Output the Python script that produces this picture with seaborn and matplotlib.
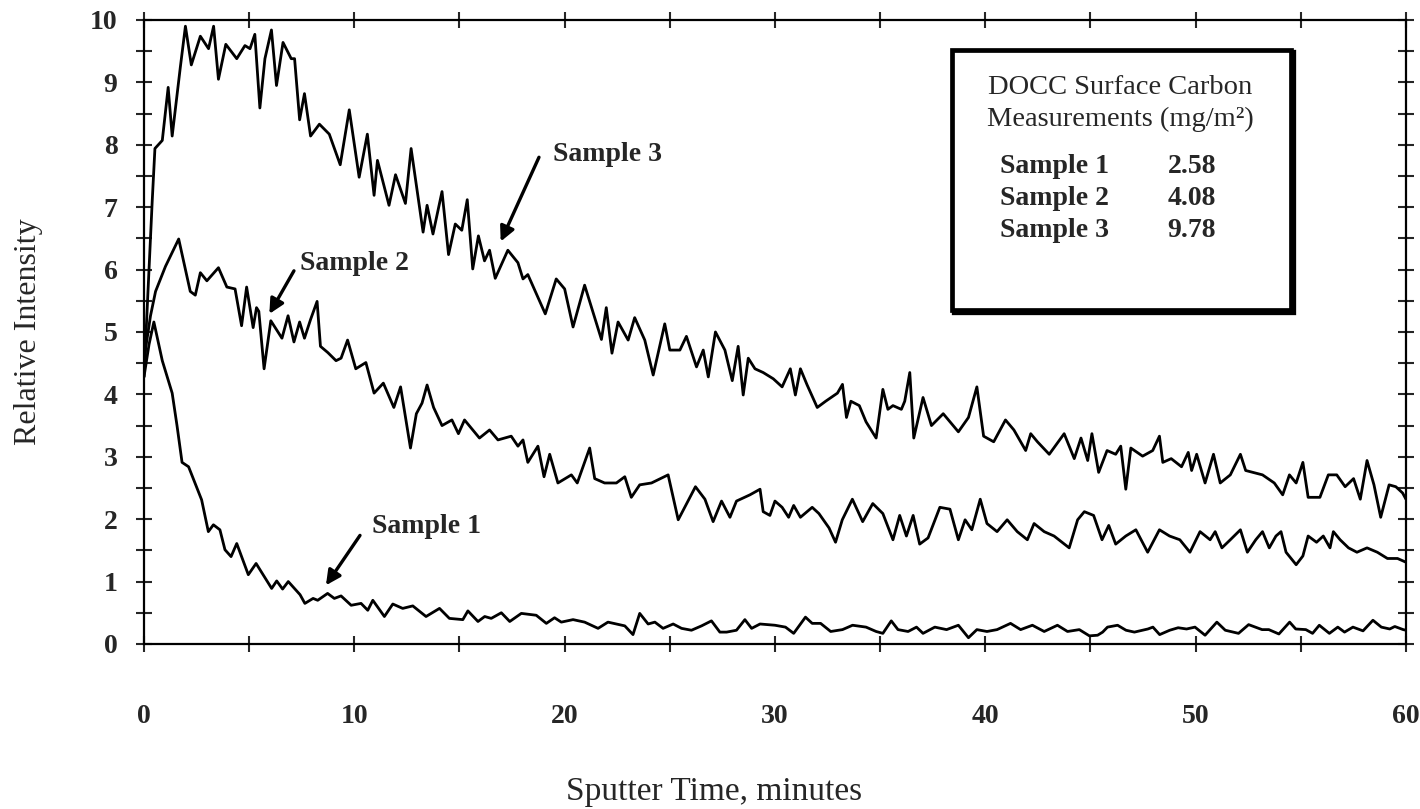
import seaborn as sns
import matplotlib.pyplot as plt
import matplotlib.patches as patches

# sputter time (minutes) and relative intensity
time_s1 = [0.00, 0.24, 0.47, 0.87, 1.34, 1.57, 1.81, 2.12, 2.74, 3.06, 3.30, 3.61, 3.85, 4.14, 4.41,
           4.96, 5.33, 6.07, 6.31, 6.59, 6.86, 7.42, 7.65, 8.04, 8.26, 8.73, 9.05, 9.37, 9.85, 10.32,
           10.64, 10.88, 11.43, 11.83, 12.30, 12.78, 13.41, 14.05, 14.52, 15.16, 15.40, 15.88, 16.20,
           16.51, 16.99, 17.39, 17.94, 18.65, 19.13, 19.52, 19.84, 20.40, 20.95, 21.59, 22.06, 22.86,
           23.25, 23.57, 23.97, 24.29, 24.68, 25.16, 25.56, 26.03, 26.51, 26.98, 27.38, 27.70, 28.17,
           28.57, 28.89, 29.29, 30.00, 30.50, 30.89, 31.45, 31.77, 32.17, 32.65, 33.21, 33.69, 34.33,
           34.81, 35.13, 35.53, 35.85, 36.33, 36.73, 37.04, 37.60, 38.16, 38.72, 39.20, 39.60, 40.08,
           40.56, 41.20, 41.68, 42.24, 42.80, 43.43, 43.91, 44.47, 44.95, 45.34, 45.58, 45.81, 46.29,
           46.69, 47.09, 47.73, 47.97, 48.29, 48.77, 49.17, 49.57, 49.97, 50.45, 51.01, 51.41, 52.04,
           52.52, 53.16, 53.48, 53.96, 54.47, 54.76, 55.24, 55.56, 55.88, 56.36, 56.76, 57.08, 57.48,
           57.96, 58.43, 58.83, 59.23, 59.47, 59.87, 60.00]
int_s1 = [4.28, 4.80, 5.16, 4.54, 4.02, 3.50, 2.91, 2.84, 2.31, 1.80, 1.91, 1.83, 1.51, 1.40, 1.61,
          1.11, 1.29, 0.89, 1.01, 0.88, 1.00, 0.79, 0.65, 0.73, 0.70, 0.81, 0.73, 0.77, 0.62, 0.65,
          0.54, 0.70, 0.44, 0.64, 0.57, 0.61, 0.44, 0.57, 0.41, 0.39, 0.53, 0.36, 0.44,
          0.41, 0.50, 0.36, 0.49, 0.46, 0.33, 0.42, 0.35, 0.39, 0.35, 0.25, 0.35, 0.29,
          0.15, 0.49, 0.32, 0.35, 0.25, 0.32, 0.25, 0.22, 0.29, 0.37, 0.19, 0.19, 0.22,
          0.39, 0.25, 0.32, 0.30, 0.27, 0.17, 0.43, 0.33, 0.33, 0.20, 0.23, 0.30, 0.27,
          0.20, 0.17, 0.37, 0.23, 0.20, 0.27, 0.17, 0.27, 0.23, 0.30, 0.10, 0.23, 0.20,
          0.23, 0.33, 0.23, 0.30, 0.20, 0.30, 0.20, 0.23, 0.13, 0.14, 0.19, 0.27, 0.30,
          0.22, 0.19, 0.24, 0.27, 0.15, 0.22, 0.26, 0.24, 0.27, 0.14, 0.35, 0.22, 0.17,
          0.31, 0.23, 0.23, 0.16, 0.35, 0.24, 0.23, 0.17, 0.30, 0.17, 0.27, 0.19, 0.27,
          0.21, 0.38, 0.27, 0.24, 0.28, 0.23, 0.22]

time_s2 = [0.00, 0.08, 0.31, 0.55, 1.02, 1.65, 2.20, 2.44, 2.68, 2.99, 3.54, 3.94, 4.33, 4.64, 4.88,
           5.19, 5.35, 5.46, 5.71, 6.03, 6.56, 6.85, 7.13, 7.40, 7.63, 7.92, 8.23, 8.39, 8.74, 9.13,
           9.37, 9.68, 10.07, 10.55, 10.94, 11.38, 11.88, 12.20, 12.67, 12.95, 13.22, 13.46, 13.77,
           14.17, 14.64, 14.95, 15.24, 15.56, 15.95, 16.43, 16.83, 17.46, 17.78, 18.02, 18.25, 18.73,
           19.02, 19.29, 19.68, 20.32, 20.60, 21.19, 21.43, 21.90, 22.46, 22.86, 23.17, 23.57, 24.13,
           24.92, 25.40, 25.71, 26.22, 26.67, 27.06, 27.46, 27.86, 28.17, 28.81, 29.29, 29.44, 29.76,
           30.00, 30.34, 30.65, 30.89, 31.21, 31.77, 32.09, 32.57, 32.88, 33.20, 33.68, 34.17, 34.65,
           35.13, 35.61, 35.93, 36.25, 36.57, 36.88, 37.28, 37.84, 38.32, 38.72, 39.04, 39.36, 39.76,
           40.08, 40.56, 41.04, 41.52, 42.00, 42.32, 42.80, 43.27, 43.99, 44.39, 44.71, 45.15, 45.55,
           45.87, 46.20, 46.68, 47.16, 47.72, 48.28, 48.76, 49.25, 49.73, 50.21, 50.69, 50.93, 51.25,
           51.65, 52.13, 52.46, 52.86, 53.18, 53.50, 53.82, 54.06, 54.30, 54.78, 55.10, 55.35, 55.75,
           56.07, 56.39, 56.55, 56.87, 57.27, 57.67, 58.15, 58.64, 59.12, 59.60, 60.00]
int_s2 = [4.40, 4.74, 5.26, 5.65, 6.05, 6.49, 5.65, 5.59, 5.95, 5.82, 6.03, 5.72, 5.69, 5.10, 5.72,
          5.07, 5.39, 5.33, 4.41, 5.18, 4.90, 5.26, 4.84, 5.16, 4.90, 5.20, 5.49, 4.77, 4.67, 4.54,
          4.58, 4.87, 4.41, 4.51, 4.02, 4.18, 3.79, 4.12, 3.14, 3.69, 3.86, 4.15, 3.79,
          3.50, 3.59, 3.37, 3.59, 3.46, 3.30, 3.43, 3.27, 3.33, 3.17, 3.27, 2.91, 3.17,
          2.68, 3.04, 2.58, 2.71, 2.58, 3.14, 2.65, 2.58, 2.58, 2.68, 2.35, 2.55, 2.58,
          2.71, 1.99, 2.19, 2.52, 2.32, 1.96, 2.29, 2.03, 2.29, 2.39, 2.48, 2.12, 2.06,
          2.29, 2.19, 2.03, 2.22, 2.03, 2.19, 2.09, 1.86, 1.63, 1.99, 2.32, 1.96, 2.25,
          2.09, 1.67, 2.06, 1.73, 2.06, 1.60, 1.70, 2.19, 2.16, 1.67, 1.99, 1.83, 2.32,
          1.93, 1.80, 1.99, 1.80, 1.67, 1.93, 1.80, 1.73, 1.54, 1.99, 2.12, 2.06, 1.67,
          1.90, 1.60, 1.73, 1.83, 1.47, 1.83, 1.73, 1.67, 1.47, 1.80, 1.67, 1.80, 1.54,
          1.67, 1.83, 1.47, 1.67, 1.80, 1.54, 1.73, 1.80, 1.47, 1.27, 1.41, 1.73, 1.63,
          1.73, 1.54, 1.80, 1.67, 1.54, 1.47, 1.54, 1.47, 1.37, 1.37, 1.31]

time_s3 = [0.00, 0.39, 0.52, 0.87, 1.15, 1.34, 1.73, 1.97, 2.25, 2.68, 3.07, 3.31, 3.54, 3.89, 4.41,
           4.80, 5.04, 5.27, 5.51, 5.75, 6.06, 6.30, 6.61, 7.00, 7.16, 7.40, 7.63, 7.92, 8.34, 8.81,
           9.33, 9.76, 10.23, 10.62, 10.94, 11.10, 11.65, 11.96, 12.43, 12.70, 13.27, 13.46, 13.74,
           14.17, 14.48, 14.80, 15.11, 15.37, 15.63, 15.90, 16.19, 16.43, 16.70, 17.30, 17.78, 18.02,
           18.25, 19.08, 19.60, 20.00, 20.40, 20.95, 21.75, 21.98, 22.25, 22.54, 23.02, 23.33, 23.81,
           24.21, 24.76, 25.00, 25.48, 25.79, 26.27, 26.59, 26.83, 27.17, 27.62, 27.97, 28.25, 28.49,
           28.73, 29.05, 29.44, 29.92, 30.34, 30.73, 30.97, 31.21, 31.53, 32.01, 32.41, 32.97, 33.21,
           33.40, 33.61, 34.01, 34.33, 34.81, 35.13, 35.37, 35.61, 36.01, 36.17, 36.41, 36.60, 37.04,
           37.44, 38.00, 38.72, 39.20, 39.60, 39.92, 40.40, 40.96, 41.36, 41.92, 42.16, 42.48, 43.04,
           43.75, 44.23, 44.55, 44.87, 45.07, 45.39, 45.79, 46.20, 46.44, 46.68, 46.92, 47.48, 47.96,
           48.28, 48.44, 48.84, 49.33, 49.65, 49.81, 50.05, 50.45, 50.85, 51.17, 51.65, 52.13, 52.38,
           53.18, 53.74, 54.14, 54.46, 54.78, 55.10, 55.35, 55.91, 56.31, 56.71, 57.11, 57.51, 57.83,
           58.15, 58.48, 58.80, 59.20, 59.52, 59.84, 60.00]
int_s3 = [4.28, 7.09, 7.94, 8.07, 8.92, 8.14, 9.25, 9.90, 9.28, 9.74, 9.54, 9.90, 9.05, 9.61, 9.38,
          9.59, 9.54, 9.77, 8.59, 9.38, 9.84, 8.95, 9.64, 9.38, 9.38, 8.40, 8.82, 8.14, 8.33, 8.17,
          7.68, 8.56, 7.48, 8.17, 7.19, 7.75, 7.03, 7.52, 7.06, 7.94, 6.60, 7.03, 6.57,
          7.25, 6.24, 6.73, 6.63, 7.12, 6.01, 6.54, 6.14, 6.31, 5.86, 6.31, 6.11, 5.85,
          5.92, 5.29, 5.85, 5.69, 5.08, 5.75, 4.88, 5.39, 4.66, 5.16, 4.87, 5.23, 4.87,
          4.31, 5.13, 4.71, 4.71, 4.93, 4.44, 4.71, 4.28, 5.00, 4.71, 4.22, 4.77, 3.99,
          4.58, 4.41, 4.35, 4.25, 4.12, 4.41, 3.99, 4.41, 4.15, 3.79, 3.89, 4.02, 4.16,
          3.63, 3.89, 3.82, 3.56, 3.30, 4.08, 3.76, 3.82, 3.76, 3.89, 4.35, 3.30, 3.95,
          3.50, 3.69, 3.40, 3.63, 4.12, 3.33, 3.24, 3.59, 3.43, 3.10, 3.37, 3.24, 3.04,
          3.37, 2.97, 3.30, 2.94, 3.37, 2.75, 3.10, 3.04, 3.17, 2.48, 3.14, 3.01, 3.10,
          3.33, 2.91, 2.97, 2.84, 3.07, 2.78, 3.04, 2.58, 3.04, 2.58, 2.71, 3.04, 2.78,
          2.71, 2.58, 2.39, 2.71, 2.58, 2.91, 2.35, 2.35, 2.71, 2.71, 2.52, 2.65, 2.32,
          2.94, 2.55, 2.03, 2.55, 2.52, 2.42, 2.32]

sample_names = ["Sample 1", "Sample 2", "Sample 3"]
carbon_values = ["2.58", "4.08", "9.78"]

sns.set_style("ticks")
plt.rcParams['font.family'] = ['Liberation Serif', 'DejaVu Serif']

fig = plt.figure(figsize=(14.2, 8.09), dpi=100)
ax = fig.add_axes([0.1014, 0.2040, 0.8887, 0.7713])

for t, v in [(time_s1, int_s1), (time_s2, int_s2), (time_s3, int_s3)]:
    sns.lineplot(x=t, y=v, ax=ax, color="black", linewidth=2.0,
                 estimator=None, sort=False)

ax.set_xlim(0, 60)
ax.set_ylim(0, 10)
ax.set_xticks(range(0, 61, 10))
ax.set_xticks(range(5, 60, 10), minor=True)
ax.set_yticks(range(0, 11))
ax.set_yticks([i + 0.5 for i in range(10)], minor=True)

for s in ax.spines.values():
    s.set_linewidth(1.6)
    s.set_color("black")

ax.tick_params(which="both", direction="inout", length=12, width=1.5,
               top=True, right=True, labeltop=False, labelright=False)
ax.tick_params(axis="x", pad=37)
ax.tick_params(axis="y", pad=13)
for lab in ax.get_xticklabels() + ax.get_yticklabels():
    lab.set_fontweight("bold")
    lab.set_fontsize(20)

ax.set_xlabel("Sputter Time, minutes", fontsize=24)
ax.xaxis.set_label_coords(0.452, -0.213)
ax.set_ylabel("Relative Intensity", fontsize=23)
ax.yaxis.set_label_coords(-0.080, 0.5)

# curve labels with arrows
labels = [("Sample 3", (19.45, 7.84), (18.78, 7.80), (16.96, 6.45)),
          ("Sample 2", (7.42, 6.10), (7.13, 5.98), (5.96, 5.29)),
          ("Sample 1", (10.83, 1.88), (10.27, 1.74), (8.65, 0.94))]
for name, txt, tail, head in labels:
    ax.text(txt[0], txt[1], name, fontsize=20, fontweight="bold",
            ha="left", va="center")
    ax.annotate("", xy=head, xytext=tail,
                arrowprops=dict(arrowstyle="-|>", color="black", lw=2.4,
                                mutation_scale=22, shrinkA=0, shrinkB=0))

# measurement box (slightly heavier lower-right edge like the scan)
ax.add_patch(patches.Rectangle((0.6415, 0.532), 0.269, 0.417, transform=ax.transAxes,
                               fill=False, linewidth=3.8, edgecolor="black", zorder=5))
ax.add_patch(patches.Rectangle((0.640, 0.535), 0.269, 0.417, transform=ax.transAxes,
                               facecolor="white", linewidth=3.4, edgecolor="black", zorder=5))
ax.text(0.7734, 0.891, "DOCC Surface Carbon", transform=ax.transAxes,
        fontsize=20.5, ha="center", va="center", zorder=6)
ax.text(0.7734, 0.840, "Measurements (mg/m²)", transform=ax.transAxes,
        fontsize=20.5, ha="center", va="center", zorder=6)
for i, (name, val) in enumerate(zip(sample_names, carbon_values)):
    y = 0.765 - i * 0.051
    ax.text(0.678, y, name, transform=ax.transAxes, fontsize=20,
            fontweight="bold", ha="left", va="center", zorder=6)
    ax.text(0.811, y, val, transform=ax.transAxes, fontsize=20,
            fontweight="bold", ha="left", va="center", zorder=6)

fig.savefig("out.png", dpi=100)
